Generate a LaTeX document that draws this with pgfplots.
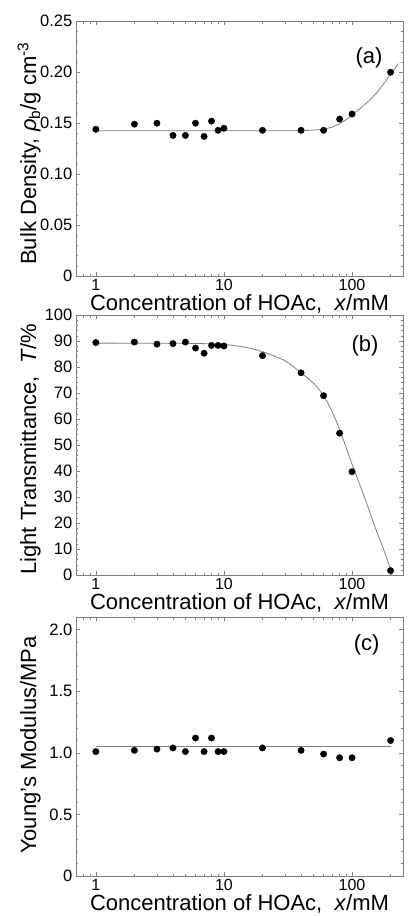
\documentclass[border=0pt]{standalone}
\usepackage{fontspec}
\setmainfont{Liberation Sans}
\usepackage{pgfplots}
\pgfplotsset{compat=1.18}
\pgfplotsset{/pgf/number format/assume math mode=true}
\definecolor{framegray}{gray}{0.5}
\definecolor{curvegray}{gray}{0.5}
\pgfplotsset{
  every axis/.append style={
    scale only axis, width=327pt,
    xmin=0.7, xmax=250,
    xtick={1,10,100}, xticklabels={\mbox{1},\mbox{10},\mbox{100}},
    minor xtick={0.8,0.9,2,3,4,5,6,7,8,9,20,30,40,50,60,70,80,90,200},
    axis line style={framegray, line width=0.8pt},
    major tick style={framegray, line width=0.6pt},
    minor tick style={framegray, line width=0.6pt},
    major tick length=4pt, minor tick length=2.5pt,
    tick align=inside,
    tick label style={font=\fontsize{16.5}{19}\selectfont, black},
    xticklabel style={inner sep=0pt, anchor=north, yshift=-3pt, font=\fontsize{16}{19}\selectfont},
    yticklabel style={inner sep=0pt, anchor=east, xshift=-3.5pt},
    label style={font=\fontsize{22}{26}\selectfont},
    xlabel={Concentration of HOAc,\ \ \textit{x}/mM},
    xlabel style={at={(axis description cs:0.5,0)}, anchor=base, yshift=-34pt},
  },
}
\pgfplotstableread{
x y
1 0.144
2 0.149
3 0.150
4 0.138
5 0.138
6 0.150
7 0.137
8 0.152
9 0.143
10 0.145
20 0.143
40 0.143
60 0.143
80 0.154
100 0.159
200 0.200
}\dataA
\pgfplotstableread{
x y
1 0.1425
30 0.1425
40 0.1427
50 0.1432
60 0.1442
70 0.1462
80 0.1495
90 0.1535
100 0.1580
125 0.1680
150 0.1775
175 0.1880
200 0.1980
230 0.2085
}\fitA
\pgfplotstableread{
x y
1 89.4
2 89.6
3 88.8
4 89.0
5 89.6
6 87.3
7 85.3
8 88.3
9 88.3
10 88.1
20 84.4
40 77.8
60 69.0
80 54.6
100 39.8
200 1.8
}\dataB
\pgfplotstableread{
x y
1 89.2
5 89.1
10 88.7
15 87.5
20 85.9
30 82.4
40 77.8
50 73.8
60 69.0
70 62.8
80 56.0
100 42.8
125 30.0
150 19.0
175 10.4
200 2.2
205 0.0
}\fitB
\pgfplotstableread{
x y
1 1.01
2 1.02
3 1.03
4 1.04
5 1.01
6 1.12
7 1.01
8 1.12
9 1.01
10 1.01
20 1.04
40 1.02
60 0.99
80 0.96
100 0.96
200 1.10
}\dataC
\pgfplotstableread{
x y
1 1.054
200 1.054
}\fitC
\begin{document}
\begin{tikzpicture}
\path[use as bounding box] (0pt,0pt) rectangle (409pt,-916pt);
% (a)
\begin{semilogxaxis}[at={(76pt,-276pt)}, anchor=south west, height=254.7pt,
  ymin=0, ymax=0.25,
  ytick={0,0.05,0.10,0.15,0.20,0.25},
  yticklabels={0,0.05,0.10,0.15,0.20,0.25},
  minor y tick num=4,
  ylabel={Bulk Density, \textit{ρ}\textsubscript{b}/g cm\textsuperscript{-3}},
  ylabel style={at={(axis description cs:-0.1223,0.481)}, anchor=base},
]
\addplot[no marks, curvegray, line width=0.8pt, smooth] table {\fitA};
\addplot[only marks, mark=*, mark size=3.2pt, draw=black, fill=black] table {\dataA};
\node[font=\fontsize{22}{26}\selectfont] at (axis description cs:0.896,0.858) {(a)};
\end{semilogxaxis}
% (b)
\begin{semilogxaxis}[at={(76pt,-575.3pt)}, anchor=south west, height=260.3pt,
  ymin=0, ymax=100,
  ytick={0,10,20,30,40,50,60,70,80,90,100},
  yticklabels={0,10,20,30,40,50,60,70,80,90,100},
  minor y tick num=4,
  ylabel={Light Transmittance,\ \ \textit{T}/\%},
  ylabel style={at={(axis description cs:-0.1223,0.485)}, anchor=base},
]
\addplot[no marks, curvegray, line width=0.8pt, smooth] table {\fitB};
\addplot[only marks, mark=*, mark size=3.2pt, draw=black, fill=black] table {\dataB};
\node[font=\fontsize{22}{26}\selectfont] at (axis description cs:0.884,0.882) {(b)};
\end{semilogxaxis}
% (c)
\begin{semilogxaxis}[at={(76pt,-876pt)}, anchor=south west, height=258.7pt,
  ymin=0, ymax=2.1,
  ytick={0,0.5,1,1.5,2},
  yticklabels={0,0.5,1.0,1.5,2.0},
  minor ytick={0.1,0.2,0.3,0.4,0.6,0.7,0.8,0.9,1.1,1.2,1.3,1.4,1.6,1.7,1.8,1.9,2.1},
  ylabel={Young's Modulus/MPa},
  ylabel style={at={(axis description cs:-0.1223,0.506)}, anchor=base},
]
\addplot[no marks, curvegray, line width=0.8pt] table {\fitC};
\addplot[only marks, mark=*, mark size=3.2pt, draw=black, fill=black] table {\dataC};
\node[font=\fontsize{22}{26}\selectfont] at (axis description cs:0.889,0.893) {(c)};
\end{semilogxaxis}
\end{tikzpicture}
\end{document}
